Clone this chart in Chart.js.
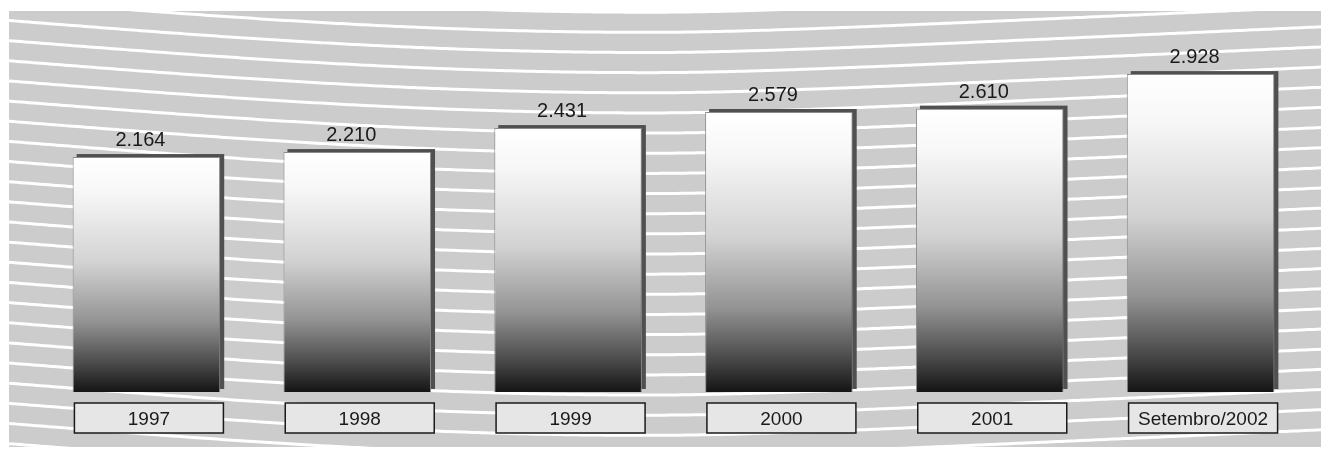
<!DOCTYPE html>
<html>
<head>
<meta charset="utf-8">
<title>Evolução anual</title>
<script src="https://cdn.jsdelivr.net/npm/chart.js"></script>
<style>
  body { margin: 0; background: #fff; }
  #grafico { display: block; }
</style>
</head>
<body>
<canvas id="grafico" width="1321" height="450"></canvas>
<script>
// dados do gráfico
const anos = ['1997', '1998', '1999', '2000', '2001', 'Setembro/2002'];
const totais = [2164, 2210, 2431, 2579, 2610, 2928];
const escalaMin = 0;
const escalaMax = 3500;

function formata(v) {
  return String(v).replace(/\B(?=(\d{3})+(?!\d))/g, '.');
}

// fundo cinza com linhas brancas onduladas
function curva(x) {
  if (x <= 650) return 32 * Math.sin(Math.PI / 2 * (x - 9) / 641);
  const d = x - 650;
  return 32 - (0.045 * d - 4.5 * (1 - Math.exp(-d / 100)));
}

const fundo = {
  id: 'fundo',
  beforeDraw(chart) {
    const ctx = chart.ctx;
    ctx.save();
    ctx.fillStyle = '#ffffff';
    ctx.fillRect(0, 0, chart.width, chart.height);
    ctx.fillStyle = '#cccccc';
    ctx.fillRect(9, 11, chart.width - 9, 436);
    ctx.beginPath();
    ctx.rect(9, 11, chart.width - 9, 436);
    ctx.clip();
    ctx.strokeStyle = '#ffffff';
    ctx.lineWidth = 3;
    for (let i = -4; i < 24; i++) {
      const y0 = 20.5 + i * 20.15;
      ctx.beginPath();
      for (let x = 9; x <= chart.width; x += 4) {
        const y = y0 + curva(x);
        if (x === 9) ctx.moveTo(x, y); else ctx.lineTo(x, y);
      }
      ctx.stroke();
    }
    ctx.restore();
  }
};

// sombra escura atrás de cada barra
const sombra = {
  id: 'sombra',
  beforeDatasetsDraw(chart) {
    const ctx = chart.ctx;
    ctx.save();
    ctx.fillStyle = '#505050';
    chart.getDatasetMeta(0).data.forEach(bar => {
      const w = bar.width;
      ctx.fillRect(bar.x - w / 2 + 4, bar.y - 3, w, bar.base - bar.y);
    });
    ctx.restore();
  }
};

// valores acima das barras e caixas com os anos
const rotulos = {
  id: 'rotulos',
  afterDatasetsDraw(chart) {
    const ctx = chart.ctx;
    const meta = chart.getDatasetMeta(0);
    ctx.save();
    ctx.textAlign = 'center';
    ctx.textBaseline = 'alphabetic';
    meta.data.forEach((bar, i) => {
      ctx.fillStyle = '#1a1a1a';
      ctx.font = '20px "Liberation Sans", Arial, sans-serif';
      ctx.fillText(formata(totais[i]), bar.x - 6, bar.y - 11);

      const bx = bar.x + 2.5 - 74.5;
      ctx.fillStyle = '#e6e6e6';
      ctx.fillRect(bx, 403, 149, 30);
      ctx.strokeStyle = '#1a1a1a';
      ctx.lineWidth = 1.5;
      ctx.strokeRect(bx, 403, 149, 30);
      ctx.fillStyle = '#1a1a1a';
      ctx.font = '19px "Liberation Sans", Arial, sans-serif';
      ctx.fillText(anos[i], bar.x + 2.5, 425);
    });
    ctx.restore();
  }
};

function degrade(context) {
  const chart = context.chart;
  if (!chart.chartArea || context.raw === undefined) return '#cccccc';
  const y = chart.scales.y;
  const topo = y.getPixelForValue(context.raw);
  const base = y.getPixelForValue(escalaMin);
  const g = chart.ctx.createLinearGradient(0, topo, 0, base);
  g.addColorStop(0, '#ffffff');
  g.addColorStop(0.15, '#f7f7f7');
  g.addColorStop(0.45, '#d2d2d2');
  g.addColorStop(0.7, '#939393');
  g.addColorStop(0.88, '#4a4a4a');
  g.addColorStop(1, '#141414');
  return g;
}

new Chart(document.getElementById('grafico'), {
  type: 'bar',
  data: {
    labels: anos,
    datasets: [{
      data: totais,
      backgroundColor: degrade,
      borderColor: '#8c8c8c',
      borderWidth: 1,
      barPercentage: 0.7,
      categoryPercentage: 1
    }]
  },
  options: {
    responsive: false,
    animation: false,
    layout: { padding: { left: 41, right: 15, top: 12, bottom: 58 } },
    plugins: { legend: { display: false }, tooltip: { enabled: false } },
    scales: {
      x: { display: false },
      y: { display: false, min: escalaMin, max: escalaMax }
    }
  },
  plugins: [fundo, sombra, rotulos]
});
</script>
</body>
</html>
